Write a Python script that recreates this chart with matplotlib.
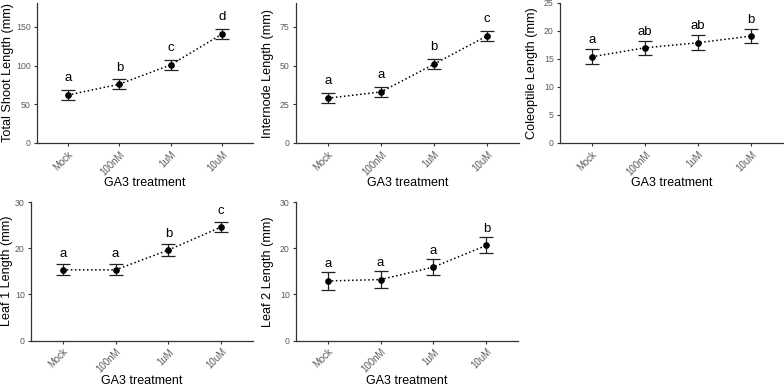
import matplotlib.pyplot as plt

plt.rcParams['font.family'] = ['Liberation Sans', 'DejaVu Sans']

treatments = ['Mock', '100nM', '1uM', '10uM']

shoot_mean = [62, 76, 101, 141]
shoot_err = [6.5, 6.2, 6.5, 6.5]
shoot_letters = ['a', 'b', 'c', 'd']

internode_mean = [29, 33, 51, 69.3]
internode_err = [3.3, 3.2, 3.2, 3.1]
internode_letters = ['a', 'a', 'b', 'c']

coleoptile_mean = [15.4, 17.0, 17.9, 19.1]
coleoptile_err = [1.35, 1.25, 1.35, 1.3]
coleoptile_letters = ['a', 'ab', 'ab', 'b']

leaf1_mean = [15.3, 15.3, 19.6, 24.6]
leaf1_err = [1.2, 1.2, 1.2, 1.15]
leaf1_letters = ['a', 'a', 'b', 'c']

leaf2_mean = [12.9, 13.2, 15.9, 20.6]
leaf2_err = [1.9, 1.8, 1.75, 1.75]
leaf2_letters = ['a', 'a', 'a', 'b']

W, H = 784, 387
fig = plt.figure(figsize=(W / 100, H / 100), dpi=100)

# (data, errors, letters, ylabel, ymax, yticks, box in pixels: left, top, right, bottom, ylabel x px, letter offset)
panels = [
    (shoot_mean, shoot_err, shoot_letters, 'Total Shoot Length (mm)', 181, [0, 50, 100, 150],
     (37, 3, 253, 143), 8, 15),
    (internode_mean, internode_err, internode_letters, 'Internode Length (mm)', 90.5, [0, 25, 50, 75],
     (296, 3, 519, 143), 268, 7.7),
    (coleoptile_mean, coleoptile_err, coleoptile_letters, 'Coleoptile Length (mm)', 25, [0, 5, 10, 15, 20, 25],
     (560, 3, 783, 143), 532, 1.6),
    (leaf1_mean, leaf1_err, leaf1_letters, 'Leaf 1 Length (mm)', 30, [0, 10, 20, 30],
     (31, 202, 253, 340.5), 7, 2.3),
    (leaf2_mean, leaf2_err, leaf2_letters, 'Leaf 2 Length (mm)', 30, [0, 10, 20, 30],
     (296, 202, 518, 340.5), 268, 1.8),
]

for mean, err, letters, ylabel, ymax, yticks, box, ylab_x, offset in panels:
    l, t, r, b = box
    ax = fig.add_axes([l / W, 1 - b / H, (r - l) / W, (b - t) / H])
    x = list(range(1, len(treatments) + 1))
    ax.plot(x, mean, linestyle=':', color='black', linewidth=1.1, zorder=2)
    ax.errorbar(x, mean, yerr=err, fmt='none', ecolor='#222222', elinewidth=0.9,
                capsize=5, capthick=0.9, zorder=3)
    ax.plot(x, mean, 'o', color='black', markersize=3.8, zorder=4)
    for xi, m, e, lab in zip(x, mean, err, letters):
        ax.text(xi, m + e + offset, lab, ha='center', va='center', fontsize=9.5, color='black')

    ax.set_xlim(0.4, 4.6)
    ax.set_ylim(0, ymax)
    ax.set_xticks(x)
    ax.set_xticklabels(treatments, rotation=45, ha='right', rotation_mode='anchor')
    ax.set_yticks(yticks)
    ax.tick_params(axis='both', labelcolor='#5a5a5a', color='#333333',
                   length=2.5, width=0.8, pad=2)
    ax.tick_params(axis='y', labelsize=6.3)
    ax.tick_params(axis='x', labelsize=6.9)
    for side in ['top', 'right']:
        ax.spines[side].set_visible(False)
    for side in ['left', 'bottom']:
        ax.spines[side].set_color('#333333')
        ax.spines[side].set_linewidth(0.9)

    ax.set_ylabel(ylabel, fontsize=9.1)
    ax.yaxis.set_label_coords((ylab_x - l) / (r - l), 0.5)
    ax.set_xlabel('GA3 treatment', fontsize=9)
    label_y = 183 if b < 200 else 381
    ax.xaxis.set_label_coords(0.5, (b - label_y) / (b - t))
    ax.xaxis.label.set_va('center')
    ax.yaxis.label.set_va('center')

fig.savefig('out.png', dpi=100)
